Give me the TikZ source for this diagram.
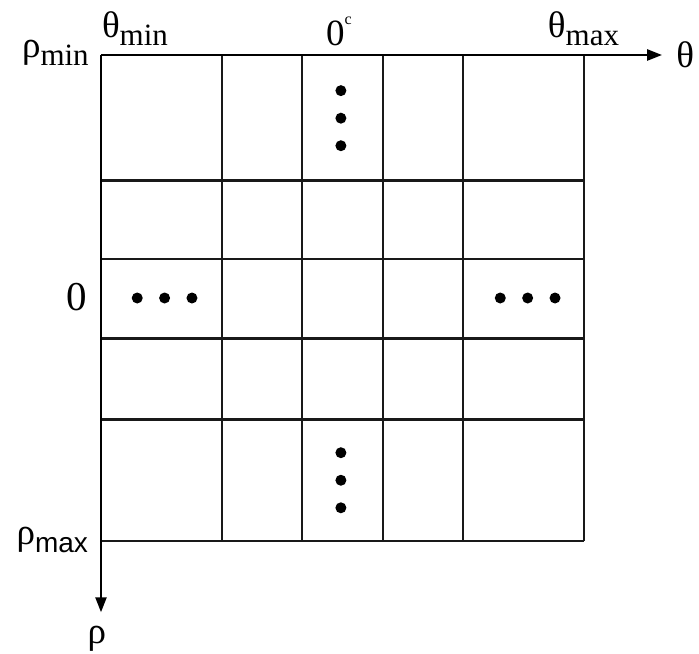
\documentclass[tikz,border=0pt]{standalone}
\usepackage{fontspec}
\setmainfont{Liberation Serif}
\newfontfamily\subsansfont{Liberation Sans}
\usetikzlibrary{arrows.meta}
\newcommand{\lowtxt}[1]{\raisebox{-0.22em}{\fontsize{31}{33}\selectfont #1}}
\newcommand{\lowsans}[1]{\raisebox{-0.22em}{\fontsize{28}{30}\selectfont\subsansfont #1}}

\begin{document}
\begin{tikzpicture}[x=80.5pt, y=-81pt,
    txt/.style={font=\fontsize{37}{40}\selectfont, inner sep=0pt},
    gridline/.style={black!90, line width=2.3pt},
    axis/.style={black, line width=2.4pt, -{Triangle[length=15pt,width=11pt]}}]
    \useasboundingbox (-1.2547,-0.679) rectangle (7.4286,7.395);

    % Draw grid
    \foreach \x in {1.5,2.5,3.5,4.5,6}
        \draw[gridline] (\x,0) -- (\x,6);
    \foreach \y in {1.55,2.52,3.5,4.5,6}
        \draw[gridline] (0,\y) -- (6,\y);

    % Draw axes
    \coordinate (O) at (0,0);
    \coordinate (Tend) at (6.97,0);
    \coordinate (Rend) at (0,6.88);
    \draw[axis] (O) -- (Tend);
    \draw[axis] (O) -- (Rend);
    \node[txt, anchor=west, xshift=14pt] (T) at (Tend) {θ};
    \node[txt, anchor=base] (R) at (-0.05,7.26) {ρ};

    % Draw dots
    \foreach \d in {-0.34,0,0.34} {
        \fill (2.98,0.78+\d) circle (5.5pt);
        \fill (2.98,5.25+\d) circle (5.5pt);
        \fill (0.79+\d,3.0) circle (5.5pt);
        \fill (5.30+\d,3.0) circle (5.5pt);
    }

    % Draw range labels
    \node[txt, anchor=base west] (Tmin) at (0.01,-0.22) {θ\lowtxt{min}};
    \node[txt, anchor=base west] (Tzero) at (2.795,-0.123) {0\raisebox{0.55em}{\fontsize{16}{16}\selectfont c}};
    \node[txt, anchor=base west] (Tmax) at (5.55,-0.22) {θ\lowtxt{max}};
    \node[txt, anchor=base east] (Rmin) at (-0.15,0.025) {ρ\lowtxt{min}};
    \node[txt, anchor=base east, font=\fontsize{41}{44}\selectfont] (Rzero) at (-0.174,3.16) {0};
    \node[txt, anchor=base east] (Rmax) at (-0.16,6.04) {ρ\lowsans{max}};
\end{tikzpicture}
\end{document}
